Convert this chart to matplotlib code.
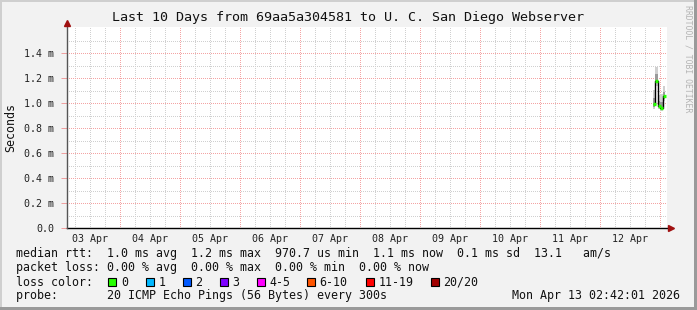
import matplotlib
matplotlib.use('Agg')
import matplotlib.pyplot as plt
from matplotlib.ticker import FixedLocator, FuncFormatter
from matplotlib.patches import Rectangle
import numpy as np

plt.rcParams['lines.scale_dashes'] = False

# data (x in hours since 03 Apr 00:00, y in ms)
days = ['03 Apr', '04 Apr', '05 Apr', '06 Apr', '07 Apr',
        '08 Apr', '09 Apr', '10 Apr', '11 Apr', '12 Apr']
hours = [237.5, 238.5, 239.5, 240.5, 241.5]
median = [0.99, 1.18, 0.98, 0.96, 1.055]
smoke_lo = [0.955, 1.14, 0.955, 0.94, 1.02]
smoke_hi = [1.10, 1.29, 1.06, 1.07, 1.14]
core_lo = [0.97, 1.16, 0.965, 0.95, 1.035]
core_hi = [1.04, 1.23, 1.015, 1.01, 1.09]
y_major = [0.0, 0.2, 0.4, 0.6, 0.8, 1.0, 1.2, 1.4]
y_minor = [0.1, 0.3, 0.5, 0.7, 0.9, 1.1, 1.3, 1.5]
loss_labels = ['0', '1', '2', '3', '4-5', '6-10', '11-19', '20/20']
loss_colors = ['#26ff00', '#00b8ff', '#0059ff', '#7e00ff',
               '#ff00ff', '#ff5500', '#ff0000', '#a10000']
loss_box_x = [108, 145.5, 182.5, 219.5, 256.5, 306.5, 365.5, 430.5]

W, H = 697, 310
MONO = 'DejaVu Sans Mono'
BG = '#f2f2f2'


def fx(x):
    return x / W


def fy(y):
    return 1 - y / H


fig = plt.figure(figsize=(W / 100, H / 100), dpi=100, facecolor=BG)

# frame 3d-ish
fig.patches.append(Rectangle((0, fy(2)), 1, 2 / H, transform=fig.transFigure,
                             color='#cfcfcf', lw=0))
fig.patches.append(Rectangle((0, 0), 2 / W, 1, transform=fig.transFigure,
                             color='#cfcfcf', lw=0))
fig.patches.append(Rectangle((0, 0), 1, 3 / H, transform=fig.transFigure,
                             color='#9a9a9a', lw=0))
fig.patches.append(Rectangle((fx(W - 3), 0), 3 / W, 1, transform=fig.transFigure,
                             color='#9a9a9a', lw=0))

x0, x1, ytop, ybot = 67, 667, 27, 228
ax = fig.add_axes([fx(x0), fy(ybot), (x1 - x0) / W, (ybot - ytop) / H])
ax.set_facecolor('white')
ax.set_xlim(2.7, 242.7)
ax.set_ylim(0, 1.608)

# grid (dotted: 1px on / 2px off)
grid_kw = dict(linestyle=(0, (0.72, 1.44)), linewidth=0.72, antialiased=False)
ax.xaxis.set_major_locator(FixedLocator([24 * k for k in range(1, 11)]))
ax.xaxis.set_minor_locator(FixedLocator([h for h in range(6, 246, 6) if h % 24]))
ax.xaxis.set_major_formatter(FuncFormatter(lambda v, p: ''))
ax.xaxis.set_minor_formatter(FuncFormatter(
    lambda v, p: days[int(v) // 24] if int(v) % 24 == 12 and int(v) // 24 < len(days) else ''))
ax.set_yticks(y_major)
ax.set_yticks(y_minor, minor=True)
ax.set_yticklabels(['0.0'] + ['%.1f m' % v for v in y_major[1:]])
ax.grid(which='major', color='#f4a4a4', **grid_kw)
ax.grid(which='minor', color='#d0d0d0', **grid_kw)
ax.set_axisbelow(True)

ax.tick_params(axis='x', which='both', length=0, pad=4, labelsize=7.2,
               labelfontfamily=MONO, labelcolor='#222222')
ax.tick_params(axis='y', which='major', length=4, color='#f0a0a0', width=0.72,
               pad=5, labelsize=7.2, labelfontfamily=MONO, labelcolor='#222222')
ax.tick_params(axis='y', which='minor', length=0)

for s in ['top', 'right', 'left', 'bottom']:
    ax.spines[s].set_visible(False)

# smoke
w = np.ones(len(hours))
ax.bar(hours, np.array(smoke_hi) - np.array(smoke_lo), bottom=smoke_lo,
       width=w, color='#d0d0d0', linewidth=0, zorder=2)
ax.bar(hours, np.array(core_hi) - np.array(core_lo), bottom=core_lo,
       width=w, color='#9a9a9a', linewidth=0, zorder=3)

# median line + loss colour
ax.step(hours, median, where='mid', color='black', linewidth=1.0, zorder=4)
for h, m in zip(hours, median):
    ax.plot([h - 0.6, h + 0.6], [m, m], color=loss_colors[0],
            linewidth=2.4, solid_capstyle='butt', zorder=5)

# axes lines with arrows
ax.plot([0, 1.004], [0, 0], color='black', lw=1.0, transform=ax.transAxes,
        clip_on=False, zorder=6)
ax.plot([1.0067], [0], marker='>', markersize=4.5, color='#a01010',
        transform=ax.transAxes, clip_on=False, zorder=7)
ax.plot([0, 0], [0, 1.015], color='#555555', lw=1.0, transform=ax.transAxes,
        clip_on=False, zorder=6)
ax.plot([0], [1.022], marker='^', markersize=4.5, color='#a01010',
        transform=ax.transAxes, clip_on=False, zorder=7)

# texts
fig.text(fx(348), fy(18), 'Last 10 Days from 69aa5a304581 to U. C. San Diego Webserver',
         ha='center', va='center', family=MONO, fontsize=9.6, color='#111111')
fig.text(fx(11), fy(127), 'Seconds', rotation=90, ha='center', va='center',
         family=MONO, fontsize=8.4, color='#111111')
fig.text(fx(688), fy(5), 'RRDTOOL / TOBI OETIKER', rotation=270, ha='center',
         va='top', family=MONO, fontsize=5.9, color='#b4b4b4')

leg_kw = dict(family=MONO, fontsize=8.37, color='#111111', va='center', ha='left')
fig.text(fx(16), fy(254),
         'median rtt:  1.0 ms avg  1.2 ms max  970.7 us min  1.1 ms now  0.1 ms sd  13.1   am/s',
         **leg_kw)
fig.text(fx(16), fy(268),
         'packet loss: 0.00 % avg  0.00 % max  0.00 % min  0.00 % now', **leg_kw)
fig.text(fx(16), fy(282), 'loss color:', **leg_kw)
for bx, lab, col in zip(loss_box_x, loss_labels, loss_colors):
    fig.patches.append(Rectangle((fx(bx), fy(286)), 8 / W, 8 / H,
                                 transform=fig.transFigure, facecolor=col,
                                 edgecolor='black', linewidth=0.8))
    fig.text(fx(bx + 13), fy(282), lab, **leg_kw)
fig.text(fx(16), fy(296), 'probe:       20 ICMP Echo Pings (56 Bytes) every 300s', **leg_kw)
fig.text(fx(680), fy(296), 'Mon Apr 13 02:42:01 2026', family=MONO, fontsize=8.37,
         color='#111111', va='center', ha='right')

plt.savefig('out.png', dpi=100, facecolor=BG)
